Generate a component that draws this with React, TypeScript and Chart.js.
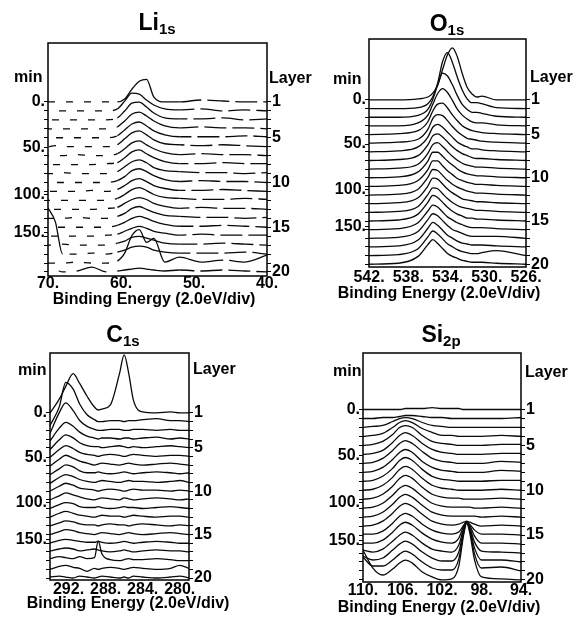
import React, { useEffect, useRef } from "react";
import { Chart, registerables } from "chart.js";

Chart.register(...registerables);

const FONT = '"Liberation Sans", Arial, Helvetica, sans-serif';
Chart.defaults.font.family = FONT;

// left axis: sputter time (min) and the layer row each tick falls on
const MIN_TICK_LABELS = [0, 50, 100, 150];
const MIN_TICK_LAYER = [1, 6.1, 11.35, 15.6];
// right axis: layer numbers
const LAYERS = [1, 2, 3, 4, 5, 6, 7, 8, 9, 10, 11, 12, 13, 14, 15, 16, 17, 18, 19, 20];
const LAYER_LABELS = [1, 5, 10, 15, 20];
const X_TITLE = "Binding Energy (2.0eV/div)";

// ---------- Li 1s ----------
const LI_TICKS = [70, 60, 50, 40];
const LI_ENERGY = [70, 69, 68, 66, 64, 62, 60.5, 59.5, 58.5, 57.5, 56.5, 55.5, 54, 52, 49, 46, 43, 40];
const LI_COUNTS = [
  [0, 0, 0, 0, 0, 0, 0, 3, 13, 21, 23, 5, 0, 0, 2, 1, 0, 0],
  [0, 0, 0, 0, 0, 0, 2, 10, 18, 17, 11, 6, 2, 1, 2, 0, 1, 0],
  [0, 0, 0, 0, 0, 0, 2, 9, 17, 18, 13, 7, 2, 1, 1, 2, 0, 1],
  [0, 0, 0, 0, 0, 0, 2, 8, 15, 17, 13, 8, 3, 1, 2, 1, 1, 0],
  [0, 0, 0, 0, 0, 0, 2, 8, 14, 16, 12, 7, 3, 1, 1, 1, 2, 1],
  [0, 1, 0, 0, 0, 0, 2, 8, 14, 16, 12, 7, 3, 2, 1, 2, 1, 0],
  [0, 0, 0, 1, 0, 0, 2, 7, 13, 15, 11, 7, 3, 1, 2, 1, 1, 0],
  [0, 0, 0, 0, 0, 1, 2, 7, 13, 15, 11, 7, 3, 1, 1, 2, 1, 1],
  [0, 0, 1, 0, 0, 0, 2, 7, 12, 14, 11, 6, 3, 2, 1, 1, 0, 1],
  [1, 0, 0, 0, 0, 0, 2, 6, 12, 14, 11, 7, 3, 1, 2, 1, 1, 0],
  [0, 0, 0, 0, 1, 0, 2, 6, 11, 13, 10, 6, 3, 1, 1, 2, 1, 0],
  [0, 0, 0, 0, 0, 0, 2, 6, 11, 13, 10, 6, 3, 2, 1, 1, 2, 1],
  [0, 0, 0, 0, 0, 1, 2, 6, 10, 12, 10, 6, 3, 1, 2, 1, 1, 0],
  [0, 0, 0, 1, 0, 0, 2, 5, 10, 12, 9, 6, 3, 2, 1, 1, 0, 1],
  [0, 0, 0, 0, 0, 0, 2, 5, 9, 11, 9, 6, 3, 1, 1, 2, 1, 0],
  [0, 0, 0, 0, 0, 1, 2, 5, 8, 10, 8, 5, 3, 1, 2, 1, 1, 1],
  [0, 0, 1, 0, 0, 0, 2, 4, 8, 9, 7, 5, 2, 1, 1, 2, 1, 0],
  [47, 33, 0, 0, 1, 0, 2, 4, 7, 8, 7, 4, 2, 1, 1, 1, 2, 0],
  [0, 0, 0, 1, 0, 0, 2, 10, 28, 34, 21, 25, 1, 6, 1, 3, 1, 8],
  [1, 2, 0, 1, 5, 0, 1, 2, 3, 4, 3, 2, 1, 2, 1, 2, 1, 0],
];

// ---------- O 1s ----------
const O_TICKS = [542, 538, 534, 530, 526];
const O_ENERGY = [542, 539, 537, 536, 535.5, 535, 534.5, 534, 533.5, 533, 532.5, 532, 531.5, 531, 530.5, 529, 526];
const O_COUNTS = [
  [0, 0, 1, 3, 7, 15, 31, 46, 53, 44, 27, 13, 6, 3, 4, 0, 0],
  [0, 0, 1, 5, 12, 26, 48, 57, 47, 32, 19, 10, 6, 6, 5, 1, 0],
  [0, 0, 2, 8, 18, 33, 45, 42, 33, 22, 13, 8, 5, 5, 4, 1, 0],
  [0, 0, 3, 11, 22, 33, 38, 34, 26, 17, 11, 7, 4, 3, 3, 1, 0],
  [0, 1, 4, 13, 24, 31, 32, 27, 20, 14, 9, 6, 4, 3, 2, 1, 0],
  [0, 1, 4, 14, 25, 29, 28, 23, 17, 12, 8, 5, 4, 3, 2, 1, 0],
  [0, 1, 5, 15, 25, 28, 25, 20, 15, 10, 7, 5, 3, 3, 2, 1, 0],
  [0, 1, 5, 16, 25, 27, 24, 19, 14, 10, 7, 5, 3, 2, 2, 1, 0],
  [0, 1, 5, 16, 25, 27, 23, 18, 13, 9, 6, 4, 3, 2, 2, 1, 0],
  [0, 1, 6, 17, 26, 26, 22, 17, 13, 9, 6, 4, 3, 2, 2, 1, 0],
  [0, 1, 6, 17, 26, 26, 21, 16, 12, 8, 6, 4, 3, 2, 2, 1, 0],
  [0, 1, 6, 18, 26, 25, 20, 15, 11, 8, 6, 4, 3, 2, 2, 1, 0],
  [0, 1, 6, 18, 26, 25, 20, 15, 11, 8, 5, 4, 3, 2, 2, 1, 0],
  [0, 1, 6, 18, 25, 24, 19, 14, 10, 7, 5, 4, 3, 2, 2, 1, 0],
  [0, 1, 7, 19, 26, 24, 19, 14, 10, 7, 5, 3, 3, 2, 2, 1, 0],
  [0, 1, 7, 19, 25, 23, 18, 13, 10, 7, 5, 3, 2, 2, 2, 1, 0],
  [0, 1, 7, 19, 25, 23, 18, 13, 9, 7, 5, 3, 2, 2, 2, 2, 0],
  [0, 1, 7, 19, 25, 22, 17, 12, 9, 6, 4, 3, 2, 2, 2, 1, 0],
  [0, 1, 7, 19, 25, 22, 17, 12, 9, 6, 4, 3, 2, 2, 3, 5, 0],
  [0, 1, 8, 20, 25, 21, 16, 11, 8, 6, 4, 3, 2, 2, 2, 1, 0],
];

// ---------- C 1s ----------
const C_TICKS = [292, 288, 284, 280];
const C_ENERGY = [294, 293, 292.3, 291.5, 290.8, 290, 289.2, 288.8, 288.4, 287.5, 286.5, 286, 285.5, 285, 284, 282.5, 281, 280, 279];
const C_COUNTS = [
  [0, 14, 27, 40, 30, 17, 6, 3, 4, 8, 40, 59, 40, 13, 1, 0, 1, 0, 0],
  [-4, 15, 40, 33, 18, 7, 2, 0, 0, 1, 1, 0, 1, 1, 2, 3, 1, 1, 0],
  [-3, 18, 28, 20, 10, 4, 1, 0, 0, 1, 1, 0, 0, 1, 1, 0, 1, 0, 0],
  [-2, 11, 17, 13, 7, 3, 1, 0, 1, 1, 0, 1, 1, 0, 1, 2, 0, 1, 0],
  [-2, 8, 13, 10, 5, 2, 1, 1, 0, 1, 2, 1, 0, 1, 0, 1, 2, 1, 0],
  [-1, 7, 11, 8, 4, 2, 1, 0, 1, 2, 1, 0, 1, 2, 1, 0, 1, 1, 0],
  [-1, 6, 10, 7, 4, 2, 0, 1, 2, 1, 0, 1, 2, 1, 0, 1, 2, 1, 0],
  [-1, 5, 9, 7, 3, 1, 1, 2, 1, 0, 1, 2, 1, 0, 1, 2, 1, 0, 1],
  [-1, 5, 8, 6, 3, 1, 0, 1, 2, 1, 0, 1, 2, 1, 1, 0, 1, 2, 0],
  [0, 5, 8, 6, 3, 2, 1, 0, 1, 2, 1, 0, 1, 2, 1, 1, 0, 1, 0],
  [0, 4, 7, 5, 3, 1, 0, 1, 2, 1, 0, 2, 1, 0, 1, 2, 1, 0, 1],
  [0, 4, 6, 5, 2, 1, 1, 2, 1, 0, 1, 2, 1, 1, 0, 1, 2, 1, 0],
  [0, 4, 6, 4, 2, 1, 0, 1, 2, 1, 1, 0, 1, 2, 1, 0, 1, 1, 0],
  [0, 3, 5, 4, 2, 1, 1, 0, 1, 2, 1, 1, 0, 1, 2, 1, 0, 1, 0],
  [0, 3, 5, 4, 2, 1, 0, 1, 2, 1, 0, 1, 2, 1, 0, 1, 2, 1, 0],
  [0, 3, 4, 3, 2, 1, 1, 2, 1, 0, 1, 2, 1, 0, 1, 2, 1, 0, 0],
  [1, 3, 4, 3, 1, 2, 3, 2, 1, 0, 1, 2, 1, 0, 1, 2, 1, 1, 0],
  [2, 4, 3, 2, 4, 2, 3, 20, 7, 1, 0, 1, 2, 1, 1, 2, 1, 0, 0],
  [0, 3, 4, 2, 1, -2, 1, 0, 1, 2, 1, 0, 1, 2, 1, 0, 1, 4, 1],
  [1, 2, 1, 0, 2, 1, 0, 1, 2, 1, 0, 1, 0, 2, 1, 0, 1, 2, 0],
];

// ---------- Si 2p ----------
const SI_TICKS = [110, 106, 102, 98, 94];
const SI_ENERGY = [110, 109, 108, 107, 106.3, 105.7, 105, 104, 103, 102, 101, 100.3, 99.8, 99.5, 99.2, 98.7, 98, 96, 94];
const SI_COUNTS = [
  [0, 0, 0, 0, 0, 1, 1, 1, 2, 1, 1, 1, 0, 0, 0, 0, 0, 0, 0],
  [0, 0, 1, 1, 2, 3, 3, 2, 1, 1, 0, 0, 0, 0, 0, 0, 0, 0, 1],
  [0, 1, 2, 6, 9, 10, 9, 5, 2, 1, 0, 0, 0, 0, 0, 0, 0, 0, 0],
  [0, 1, 3, 9, 14, 16, 14, 8, 4, 1, 1, 0, 0, 0, 0, 0, 0, 1, 0],
  [0, 1, 4, 11, 18, 20, 18, 10, 4, 2, 1, 0, 0, 0, 0, 0, 0, 1, 1],
  [0, 1, 4, 12, 19, 22, 19, 11, 5, 2, 1, 0, 0, 0, 0, 0, 0, 1, 1],
  [0, 1, 5, 13, 20, 23, 20, 12, 5, 2, 1, 0, 0, 0, 0, 0, 0, 2, 1],
  [0, 1, 5, 13, 20, 23, 20, 11, 5, 2, 1, 0, 0, 0, 0, 0, 0, 2, 1],
  [0, 1, 5, 13, 21, 24, 21, 12, 5, 2, 1, 0, 0, 0, 0, 0, 0, 1, 1],
  [0, 1, 5, 13, 21, 24, 21, 12, 5, 2, 1, 0, 0, 0, 0, 0, 0, 1, 0],
  [0, 1, 5, 13, 21, 24, 21, 12, 5, 2, 1, 1, 0, 0, 0, 0, 0, 1, 0],
  [0, 1, 5, 13, 20, 23, 20, 12, 5, 2, 1, 1, 1, 1, 1, 0, 0, 1, 0],
  [0, 1, 5, 13, 20, 23, 20, 12, 5, 2, 1, 1, 1, 1, 1, 1, 0, 1, 0],
  [0, 1, 5, 13, 20, 23, 20, 12, 5, 2, 1, 2, 4, 5, 4, 2, 0, 1, 0],
  [1, 1, 4, 12, 19, 22, 19, 11, 5, 2, 1, 3, 10, 13, 11, 5, 1, 1, 0],
  [1, 1, 4, 12, 19, 22, 19, 11, 5, 2, 1, 6, 18, 22, 19, 8, 1, 1, 0],
  [3, 1, 4, 12, 18, 21, 18, 10, 4, 2, 1, 8, 25, 31, 26, 11, 2, 1, 0],
  [6, 2, 4, 12, 18, 21, 18, 10, 4, 1, 1, 10, 32, 40, 34, 14, 2, 2, 0],
  [14, 5, 5, 11, 17, 20, 17, 9, 3, 1, 1, 12, 39, 49, 42, 17, 3, 4, 0],
  [30, 12, 5, 11, 17, 20, 17, 8, 3, 0, 1, 14, 46, 57, 48, 20, 3, 1, 0],
];

type Panel = {
  id: string; title: string; sub: string;
  energy: number[]; counts: number[][]; ticks: number[];
  eHi: number; eLo: number; unit: number; yTop: number; yBot: number;
  canvas: { x: number; y: number; w: number; h: number };
  leftW: number; rightW: number; padTop: number; bottomH: number; xTickPad: number;
  titleX: number; titleTop: number; minX: number; minTop: number; layerX: number; layerTop: number;
  xTitleX: number; xTitleTop: number;
  dashed: boolean;
};

const PANELS: Panel[] = [
  {
    id: "li", title: "Li", sub: "1s", energy: LI_ENERGY, counts: LI_COUNTS, ticks: LI_TICKS,
    eHi: 70, eLo: 40, unit: 9.1, yTop: -5.59, yBot: 20.45,
    canvas: { x: 0, y: 34, w: 292, h: 262 }, leftW: 48, rightW: 25, padTop: 5, bottomH: 20, xTickPad: 0,
    titleX: 157, titleTop: 10.5, minX: 14, minTop: 69, layerX: 269, layerTop: 70,
    xTitleX: 154, xTitleTop: 291, dashed: true,
  },
  {
    id: "o", title: "O", sub: "1s", energy: O_ENERGY, counts: O_COUNTS, ticks: O_TICKS,
    eHi: 542, eLo: 526, unit: 8.8, yTop: -6.05, yBot: 20.32,
    canvas: { x: 308, y: 30, w: 275, h: 258 }, leftW: 61, rightW: 57, padTop: 5, bottomH: 21, xTickPad: 3,
    titleX: 447, titleTop: 12, minX: 333, minTop: 71, layerX: 530, layerTop: 69,
    xTitleX: 439, xTitleTop: 285, dashed: false,
  },
  {
    id: "c", title: "C", sub: "1s", energy: C_ENERGY, counts: C_COUNTS, ticks: C_TICKS,
    eHi: 294, eLo: 279, unit: 8.84, yTop: -5.9, yBot: 20.23,
    canvas: { x: 0, y: 344, w: 300, h: 256 }, leftW: 50, rightW: 111, padTop: 5, bottomH: 20, xTickPad: 2,
    titleX: 123, titleTop: 322.5, minX: 18, minTop: 362, layerX: 193, layerTop: 361,
    xTitleX: 128, xTitleTop: 595, dashed: false,
  },
  {
    id: "si", title: "Si", sub: "2p", energy: SI_ENERGY, counts: SI_COUNTS, ticks: SI_TICKS,
    eHi: 110, eLo: 94, unit: 9.05, yTop: -5.3, yBot: 20.23,
    canvas: { x: 300, y: 344, w: 283, h: 258 }, leftW: 63, rightW: 62, padTop: 7, bottomH: 20, xTickPad: 1,
    titleX: 441, titleTop: 322.5, minX: 333, minTop: 363, layerX: 525, layerTop: 364,
    xTitleX: 439, xTitleTop: 599, dashed: false,
  },
];

const boxPlugin = {
  id: "box",
  afterDraw(chart: any) {
    const { ctx, chartArea: a } = chart;
    ctx.save();
    ctx.strokeStyle = "#000";
    ctx.lineWidth = 1.5;
    ctx.strokeRect(a.left, a.top, a.right - a.left, a.bottom - a.top);
    ctx.restore();
  },
};

const tickFont = { size: 16, weight: "bold" as const, lineHeight: 1 };

function buildChart(canvas: HTMLCanvasElement, p: Panel) {
  const leftTicks = [...MIN_TICK_LAYER];
  LAYERS.forEach((l) => {
    if (MIN_TICK_LAYER.every((m) => Math.abs(m - l) > 0.3)) leftTicks.push(l);
  });
  leftTicks.sort((a, b) => a - b);

  const datasets = p.counts.map((row, i) => ({
    data: row.map((c, j) => ({ x: p.energy[j], y: LAYERS[i] - c / p.unit })),
    borderColor: "#0a0a0a",
    borderWidth: 1.3,
    borderDashOffset: (i * 7) % 18,
    pointRadius: 0,
    fill: false,
    cubicInterpolationMode: "monotone" as const,
    segment: p.dashed
      ? {
          borderDash: (ctx: any) => {
            const layer = ctx.datasetIndex + 1;
            const h = Math.max(layer - ctx.p0.parsed.y, layer - ctx.p1.parsed.y);
            if (h > 0.45) return undefined;
            const x0 = ctx.p0.parsed.x;
            const x1 = ctx.p1.parsed.x;
            if (x1 >= 60.5) return [7, 11];
            if (x0 <= 52) return [22, 6];
            return undefined;
          },
        }
      : undefined,
  }));

  return new Chart(canvas, {
    type: "line",
    data: { datasets },
    plugins: [boxPlugin],
    options: {
      animation: false,
      responsive: false,
      maintainAspectRatio: false,
      events: [],
      layout: { autoPadding: false, padding: { top: p.padTop, left: 0, right: 0, bottom: 0 } },
      plugins: { legend: { display: false }, tooltip: { enabled: false }, title: { display: false } },
      scales: {
        x: {
          type: "linear",
          reverse: true,
          min: p.eLo,
          max: p.eHi,
          position: "bottom",
          afterBuildTicks: (s: any) => {
            s.ticks = p.ticks.map((v) => ({ value: v }));
          },
          afterFit: (s: any) => {
            s.height = p.bottomH;
          },
          grid: { display: false, drawTicks: false, tickLength: 0 },
          border: { display: false },
          ticks: {
            autoSkip: false,
            maxRotation: 0,
            minRotation: 0,
            padding: p.xTickPad,
            color: "#000",
            font: tickFont,
            callback: (v: any) => `${v}.`,
          },
        },
        y: {
          type: "linear",
          reverse: true,
          min: p.yTop,
          max: p.yBot,
          position: "left",
          afterBuildTicks: (s: any) => {
            s.ticks = leftTicks.map((v) => ({ value: v }));
          },
          afterFit: (s: any) => {
            s.width = p.leftW;
          },
          grid: { drawOnChartArea: false, drawTicks: true, tickLength: 4, color: "#000", lineWidth: 1 },
          border: { display: false },
          ticks: {
            autoSkip: false,
            padding: -1,
            color: "#000",
            font: tickFont,
            callback: (v: any) => {
              const k = MIN_TICK_LAYER.indexOf(v);
              return k >= 0 ? `${MIN_TICK_LABELS[k]}.` : "";
            },
          },
        },
        yR: {
          type: "linear",
          reverse: true,
          min: p.yTop,
          max: p.yBot,
          position: "right",
          afterBuildTicks: (s: any) => {
            s.ticks = LAYERS.map((v) => ({ value: v }));
          },
          afterFit: (s: any) => {
            s.width = p.rightW;
          },
          grid: { drawOnChartArea: false, drawTicks: true, tickLength: 4, color: "#000", lineWidth: 1 },
          border: { display: false },
          ticks: {
            autoSkip: false,
            padding: 1,
            color: "#000",
            font: tickFont,
            callback: (v: any) => (LAYER_LABELS.includes(v) ? String(v) : ""),
          },
        },
      },
    } as any,
  });
}

function PanelView({ p }: { p: Panel }) {
  const ref = useRef<HTMLCanvasElement | null>(null);
  useEffect(() => {
    if (!ref.current) return;
    const chart = buildChart(ref.current, p);
    return () => chart.destroy();
  }, [p]);

  const label: React.CSSProperties = {
    position: "absolute",
    font: `bold 16px ${FONT}`,
    lineHeight: "16px",
    color: "#000",
    whiteSpace: "nowrap",
  };

  return (
    <>
      <canvas
        ref={ref}
        width={p.canvas.w}
        height={p.canvas.h}
        style={{
          position: "absolute",
          left: p.canvas.x,
          top: p.canvas.y,
          width: p.canvas.w,
          height: p.canvas.h,
          display: "block",
        }}
      />
      <div
        style={{
          position: "absolute",
          left: p.titleX,
          top: p.titleTop,
          transform: "translateX(-50%)",
          font: `bold 23px ${FONT}`,
          lineHeight: "23px",
          color: "#000",
          whiteSpace: "nowrap",
        }}
      >
        {p.title}
        <span style={{ fontSize: 15, verticalAlign: "-4px" }}>{p.sub}</span>
      </div>
      <div style={{ ...label, left: p.minX, top: p.minTop }}>min</div>
      <div style={{ ...label, left: p.layerX, top: p.layerTop }}>Layer</div>
      <div style={{ ...label, left: p.xTitleX, top: p.xTitleTop, transform: "translateX(-50%)" }}>{X_TITLE}</div>
    </>
  );
}

export default function App() {
  return (
    <div
      style={{
        position: "absolute",
        left: 0,
        top: 0,
        width: 583,
        height: 619,
        background: "#fff",
        overflow: "hidden",
      }}
    >
      {PANELS.map((p) => (
        <PanelView key={p.id} p={p} />
      ))}
    </div>
  );
}
